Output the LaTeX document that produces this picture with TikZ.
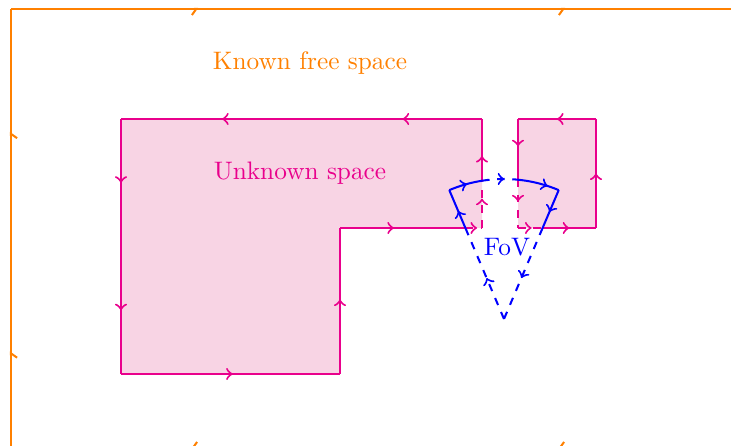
\documentclass[tikz,border=0pt]{standalone}
\usetikzlibrary{decorations.markings,arrows.meta,calc}
\definecolor{framec}{RGB}{255,128,0}
\definecolor{pinkc}{RGB}{233,0,140}
\definecolor{pinkfill}{RGB}{248,212,228}
\definecolor{fovc}{RGB}{0,0,255}
\tikzset{
  a1/.style={postaction={decorate,decoration={markings,mark=at position #1 with {\arrow{to}}}}},
  h1/.style={postaction={decorate,decoration={markings,mark=at position #1 with {\arrow{Straight Barb[harpoon,swap,length=1.7pt,width=4.8pt]}}}}},
  framel/.style={draw=framec,line width=0.8pt},
  unkl/.style={draw=pinkc,line width=0.8pt},
  fovl/.style={draw=fovc,line width=0.8pt},
  lbl/.style={font=\normalsize,inner sep=1pt}
}
\begin{document}
\begin{tikzpicture}[x=0.3953pt,y=-0.3953pt]
\path[use as bounding box] (0,0) rectangle (731,446);
\clip (0,0) rectangle (731,446);
% known free space frame
\coordinate (f1) at (11,448);
\coordinate (f2) at (11,9);
\coordinate (f3) at (745,9);
\coordinate (f4) at (745,448);
\path[framel,h1=0.22,h1=0.72] (f1) -- (f2);
\path[framel,h1=0.255,h1=0.755] (f2) -- (f3);
\path[framel] (f3) -- (f4);
\path[framel,h1=0.255,h1=0.755] (f4) -- (f1);
% unknown space fill
\fill[pinkfill] (482,119) -- (121,119) -- (121,374) -- (340,374) -- (340,228) -- (482,228) -- cycle;
\fill[pinkfill] (518,119) rectangle (596,228);
% unknown space outline, left polygon
\coordinate (p1) at (482,119);
\coordinate (p2) at (121,119);
\coordinate (p3) at (121,374);
\coordinate (p4) at (340,374);
\coordinate (p5) at (340,228);
\coordinate (p6) at (465.4,228);
\coordinate (p7) at (482,228);
\coordinate (p8) at (482,180.7);
\path[unkl,a1=0.22,a1=0.72] (p1) -- (p2);
\path[unkl,a1=0.25,a1=0.75] (p2) -- (p3);
\path[unkl,a1=0.51] (p3) -- (p4);
\path[unkl,a1=0.51] (p4) -- (p5);
\path[unkl,a1=0.43] (p5) -- (p6);
\path[unkl,dashed,a1=0.7] (p6) -- (p7);
\path[unkl,dashed,a1=0.62] (p7) -- (p8);
\path[unkl,a1=0.4] (p8) -- (p1);
% right rectangle
\coordinate (r1) at (596,119);
\coordinate (r2) at (518,119);
\coordinate (r3) at (518,179.7);
\coordinate (r4) at (518,228);
\coordinate (r5) at (542.6,228);
\coordinate (r6) at (596,228);
\path[unkl,a1=0.5] (r1) -- (r2);
\path[unkl,a1=0.45] (r2) -- (r3);
\path[unkl,dashed,a1=0.45] (r3) -- (r4);
\path[unkl,dashed,a1=0.55] (r4) -- (r5);
\path[unkl,a1=0.5] (r5) -- (r6);
\path[unkl,a1=0.5] (r6) -- (r1);
% field of view
\coordinate (A) at (504,319);
\coordinate (bl) at (465.4,228);
\coordinate (L) at ($(A)+(247:140)$);
\coordinate (R) at ($(A)+(293:140)$);
\coordinate (br) at (542.6,228);
\path[fovl,dashed,a1=0.45] (A) -- (bl);
\path[fovl,a1=0.45] (bl) -- (L);
\path[fovl,a1=0.55] (L) arc[start angle=247,end angle=260.96,radius=140] coordinate (c1);
\path[fovl,dashed,a1=0.62] (c1) arc[start angle=260.96,end angle=275.74,radius=140] coordinate (c2);
\path[fovl,a1=0.72] (c2) arc[start angle=275.74,end angle=293,radius=140];
\path[fovl,a1=0.58] (R) -- (br);
\path[fovl,dashed,a1=0.55] (br) -- (A);
% labels
\node[lbl,text=framec] (kfs) at (310,63) {Known free space};
\node[lbl,text=pinkc] (us) at (300,173) {Unknown space};
\node[lbl,text=fovc] (fov) at (507,247) {FoV};
\end{tikzpicture}
\end{document}
